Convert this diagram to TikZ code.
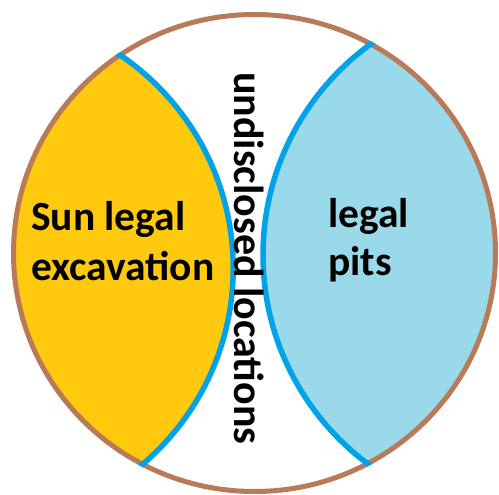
\documentclass[tikz,border=0pt]{standalone}
\usepackage{fontspec}
\setmainfont{Carlito}
\definecolor{gold}{HTML}{FFC90E}
\definecolor{ltblue}{HTML}{99D9EA}
\definecolor{tq}{HTML}{00A2E8}
\definecolor{brn}{HTML}{B97A57}
\begin{document}
\begin{tikzpicture}[x=1pt,y=-1pt,
  lbl/.style={font=\fontsize{41.5}{48}\selectfont\bfseries, inner sep=0, anchor=base west},
  vlbl/.style={font=\fontsize{42}{48}\selectfont\bfseries, inner sep=0, anchor=base west, rotate=-90},
  rim/.style={brn, line width=5},
  divider/.style={tq, line width=5.5}]
\useasboundingbox (0,0) rectangle (499,495);
\coordinate (O) at (254.5,253);
\coordinate (CL) at (-24.2,268.2);
\coordinate (CR) at (523.5,255);
\begin{scope}
  \clip (O) ellipse [x radius=241, y radius=238.5];
  \fill[gold] (CL) circle (257.4);
  \fill[ltblue] (CR) circle (260.5);
\end{scope}
\draw[rim] (O) ellipse [x radius=241, y radius=238.5];
\begin{scope}
  \clip (O) ellipse [x radius=243.5, y radius=241];
  \draw[divider] (CL) circle (257.4);
  \draw[divider] (CR) circle (260.5);
\end{scope}
\node[lbl] (s1) at (31,230) {Sun legal};
\node[lbl] (s2) at (31,280) {excavation};
\node[lbl] (p1) at (328,227) {legal};
\node[lbl] (p2) at (328,275) {pits};
\node[vlbl] (u) at (234,72) {undisclosed locations};
\end{tikzpicture}
\end{document}
